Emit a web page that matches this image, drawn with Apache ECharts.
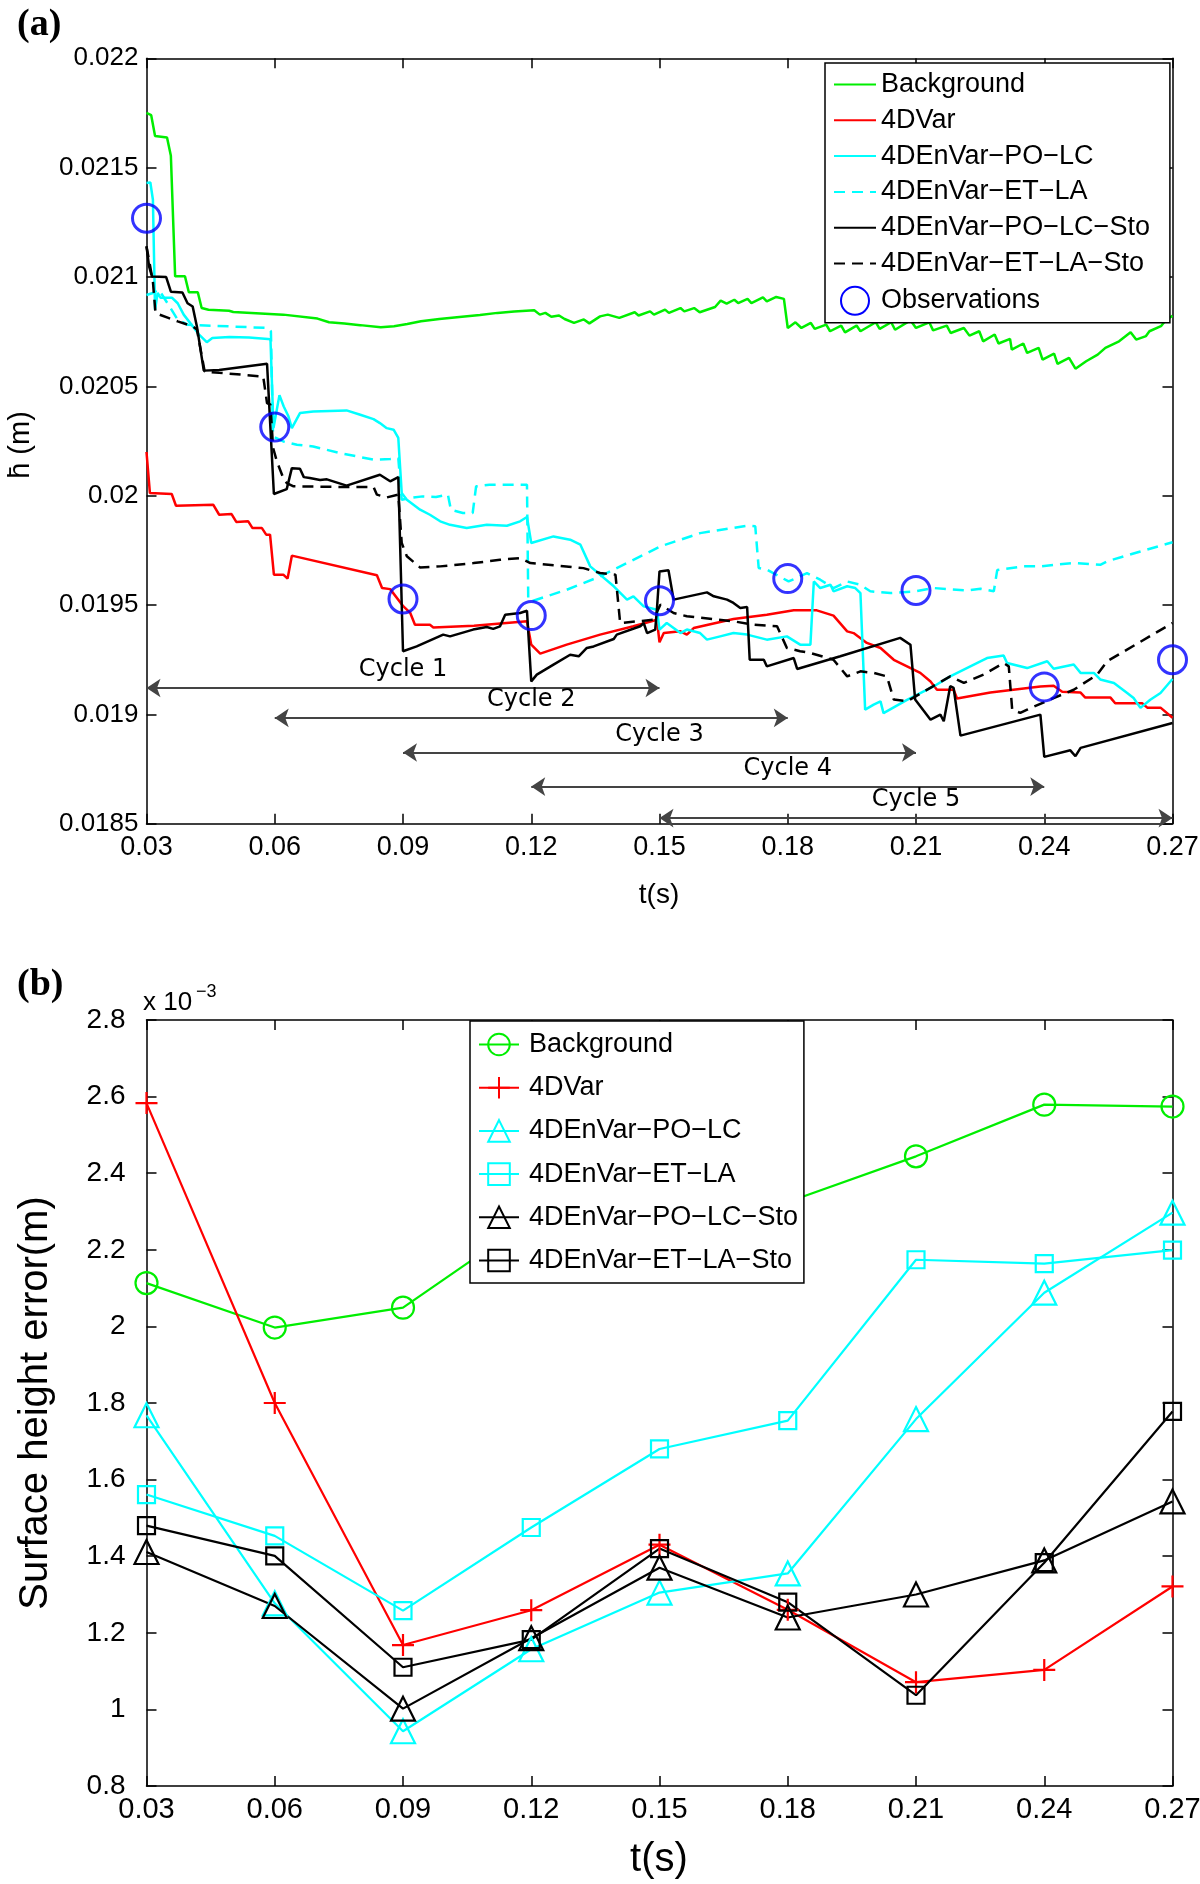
<!DOCTYPE html>
<html>
<head>
<meta charset="utf-8">
<title>Surface height and error</title>
<script src="https://cdn.jsdelivr.net/npm/echarts@6/dist/echarts.min.js"></script>
<style>
  html, body { margin: 0; padding: 0; background: #fff; }
  #chart { width: 1200px; height: 1884px; }
</style>
</head>
<body>
<div id="chart"></div>
<script>
// ---- panel (a): mean surface height over time, pairs [t, h] ----
var background = [[0.03,0.02175],[0.0311,0.02174],[0.032,0.021645],[0.0348,0.021638],[0.0357,0.021554],[0.0367,0.021003],[0.039,0.021003],[0.0399,0.02093],[0.042,0.02093],[0.0429,0.020858],[0.0445,0.02085],[0.0493,0.020846],[0.0503,0.02084],[0.062,0.020828],[0.070,0.02081],[0.0727,0.020793],[0.0763,0.020787],[0.080,0.02078],[0.0848,0.02077],[0.0879,0.020775],[0.091,0.020785],[0.0942,0.020798],[0.0985,0.020808],[0.1032,0.020817],[0.108,0.020826],[0.1121,0.020836],[0.116,0.020842],[0.1207,0.020848],[0.122,0.020828],[0.1233,0.020836],[0.1247,0.020818],[0.1265,0.020824],[0.1278,0.020808],[0.130,0.02079],[0.1323,0.020806],[0.1336,0.020788],[0.1361,0.02082],[0.1379,0.020828],[0.1406,0.020813],[0.1442,0.020839],[0.1451,0.020824],[0.1478,0.020843],[0.1487,0.020828],[0.1513,0.020851],[0.1522,0.020836],[0.1549,0.020858],[0.1558,0.020843],[0.1581,0.020858],[0.1594,0.020839],[0.163,0.020863],[0.1643,0.020892],[0.1657,0.020878],[0.1675,0.020896],[0.1684,0.020881],[0.1706,0.0209],[0.1715,0.020881],[0.1742,0.020907],[0.1751,0.020889],[0.1773,0.020909],[0.1791,0.0209],[0.18,0.020767],[0.1818,0.020793],[0.1832,0.020767],[0.1854,0.02079],[0.1863,0.020763],[0.189,0.020782],[0.1899,0.020752],[0.1925,0.020778],[0.1934,0.020747],[0.1961,0.020778],[0.197,0.020752],[0.2006,0.020793],[0.2015,0.020763],[0.2042,0.020793],[0.2051,0.020759],[0.2087,0.020802],[0.21,0.020767],[0.2131,0.020793],[0.214,0.020756],[0.2172,0.020778],[0.2181,0.020744],[0.2212,0.020767],[0.2225,0.020732],[0.2248,0.020752],[0.2257,0.020706],[0.2284,0.020737],[0.2293,0.020696],[0.232,0.020717],[0.2324,0.020668],[0.2351,0.020696],[0.236,0.020653],[0.2387,0.020676],[0.2396,0.020622],[0.2423,0.02065],[0.2431,0.020603],[0.2458,0.02063],[0.2473,0.020581],[0.2498,0.020615],[0.2525,0.020645],[0.2543,0.020676],[0.2575,0.020706],[0.2602,0.020747],[0.2615,0.020714],[0.2638,0.02073],[0.2646,0.020752],[0.2673,0.020775],[0.2685,0.020805],[0.27,0.020822]];

var var4d = [[0.03,0.0202],[0.0308,0.020012],[0.0359,0.020008],[0.0369,0.019954],[0.0456,0.019959],[0.047,0.019913],[0.0499,0.019916],[0.051,0.01988],[0.0538,0.019883],[0.0548,0.019852],[0.057,0.019852],[0.058,0.019822],[0.0589,0.019822],[0.0598,0.019639],[0.062,0.019639],[0.063,0.019621],[0.064,0.019726],[0.0839,0.019636],[0.0851,0.019578],[0.087,0.019573],[0.0901,0.019494],[0.0917,0.019464],[0.0928,0.01941],[0.0963,0.01941],[0.0971,0.019398],[0.1066,0.019405],[0.119,0.019426],[0.12,0.019319],[0.1221,0.019278],[0.1283,0.019319],[0.1361,0.019365],[0.1439,0.019403],[0.1494,0.019433],[0.15,0.01933],[0.151,0.019372],[0.1549,0.01938],[0.1564,0.019365],[0.158,0.019395],[0.1673,0.019436],[0.1751,0.019456],[0.1814,0.019476],[0.1868,0.019476],[0.1907,0.019452],[0.1939,0.01938],[0.1954,0.019372],[0.1985,0.019327],[0.2017,0.019304],[0.2048,0.01925],[0.2079,0.01922],[0.211,0.01919],[0.2134,0.019151],[0.2149,0.019113],[0.2188,0.019113],[0.2196,0.019073],[0.2274,0.0191],[0.2391,0.019128],[0.2422,0.019131],[0.2442,0.019104],[0.2485,0.0191],[0.2496,0.019077],[0.2555,0.019077],[0.2566,0.019051],[0.2629,0.019051],[0.2641,0.019031],[0.2672,0.019031],[0.27,0.018985]];

var poLc = [[0.03,0.02143],[0.0309,0.021432],[0.0315,0.021353],[0.032,0.02085],[0.0326,0.020927],[0.0333,0.020905],[0.036,0.020905],[0.0373,0.02088],[0.0387,0.020828],[0.0423,0.020737],[0.0441,0.020702],[0.0454,0.020721],[0.0494,0.020726],[0.054,0.020724],[0.0584,0.020717],[0.059,0.020714],[0.0597,0.02031],[0.0611,0.02046],[0.0621,0.020408],[0.0632,0.020363],[0.064,0.020309],[0.0659,0.020378],[0.069,0.020385],[0.0768,0.02039],[0.08,0.02037],[0.0831,0.02035],[0.0846,0.020332],[0.0862,0.020309],[0.0878,0.020302],[0.0889,0.020264],[0.0897,0.020012],[0.0909,0.019982],[0.094,0.019936],[0.0963,0.019913],[0.0987,0.019883],[0.101,0.019867],[0.1049,0.019852],[0.1096,0.019867],[0.1143,0.019863],[0.1174,0.019883],[0.119,0.019903],[0.12,0.019784],[0.1252,0.019814],[0.1291,0.019799],[0.1315,0.019776],[0.1338,0.019677],[0.1393,0.019586],[0.1424,0.019525],[0.1439,0.01954],[0.1463,0.019494],[0.1494,0.019479],[0.15,0.019388],[0.1517,0.019418],[0.1549,0.019372],[0.1564,0.019388],[0.1595,0.019372],[0.1611,0.019342],[0.1642,0.019357],[0.1673,0.019372],[0.1705,0.019365],[0.1751,0.019342],[0.1798,0.019357],[0.1829,0.019319],[0.1853,0.019319],[0.1861,0.019608],[0.1876,0.019578],[0.19,0.019593],[0.1907,0.019563],[0.1939,0.019586],[0.1958,0.019578],[0.197,0.019555],[0.1981,0.019022],[0.2001,0.019045],[0.2017,0.01906],[0.2024,0.019006],[0.2079,0.019067],[0.2141,0.019128],[0.218,0.019174],[0.2266,0.019258],[0.2305,0.019269],[0.2313,0.019235],[0.236,0.019212],[0.2407,0.019243],[0.2422,0.019209],[0.2469,0.019228],[0.2485,0.01919],[0.2516,0.01919],[0.2531,0.01916],[0.2563,0.019144],[0.2594,0.019098],[0.2609,0.019075],[0.2625,0.01903],[0.2648,0.019067],[0.2672,0.019098],[0.27,0.019162]];

var etLa = [[0.03,0.020918],[0.0315,0.020927],[0.0329,0.020942],[0.0351,0.020874],[0.0373,0.020805],[0.0396,0.020782],[0.0584,0.020767],[0.0591,0.020752],[0.0596,0.020271],[0.062,0.020248],[0.0652,0.020233],[0.069,0.020225],[0.0753,0.020195],[0.0831,0.020165],[0.087,0.020168],[0.0889,0.020172],[0.0897,0.019982],[0.0915,0.019989],[0.0946,0.019997],[0.0977,0.019994],[0.1005,0.020005],[0.1012,0.019936],[0.104,0.019921],[0.1063,0.019921],[0.1071,0.020043],[0.1102,0.02005],[0.119,0.02005],[0.1193,0.019525],[0.12,0.019517],[0.1283,0.01957],[0.1361,0.019631],[0.1502,0.019768],[0.1595,0.019829],[0.1705,0.019863],[0.1724,0.01986],[0.1732,0.01967],[0.1751,0.019662],[0.1802,0.019608],[0.1845,0.019646],[0.1876,0.019616],[0.1907,0.019578],[0.1939,0.019608],[0.197,0.019593],[0.1993,0.019563],[0.204,0.019555],[0.21,0.019563],[0.2141,0.019578],[0.2219,0.019567],[0.2251,0.019575],[0.2282,0.019563],[0.229,0.01966],[0.2352,0.019677],[0.2391,0.019677],[0.2422,0.019684],[0.2469,0.019692],[0.2531,0.019684],[0.2547,0.0197],[0.2625,0.019745],[0.27,0.019787]];

var poLcSto = [[0.03,0.02114],[0.0306,0.021049],[0.0313,0.021002],[0.0346,0.021],[0.0357,0.020933],[0.0384,0.020929],[0.0396,0.02088],[0.0408,0.020865],[0.0418,0.020773],[0.0434,0.020572],[0.047,0.020575],[0.0582,0.020603],[0.0598,0.020008],[0.0628,0.02003],[0.064,0.020126],[0.0659,0.020123],[0.0668,0.020085],[0.0682,0.020081],[0.0706,0.020072],[0.0722,0.020075],[0.0768,0.020046],[0.0846,0.020096],[0.087,0.020066],[0.0889,0.020085],[0.09,0.019289],[0.0932,0.019311],[0.0994,0.019365],[0.101,0.019357],[0.1064,0.019388],[0.1096,0.0194],[0.1111,0.019391],[0.1127,0.019403],[0.1139,0.019456],[0.1174,0.019464],[0.119,0.019474],[0.12,0.019151],[0.1213,0.019182],[0.1252,0.019228],[0.1291,0.019273],[0.1311,0.019266],[0.133,0.019304],[0.1346,0.019311],[0.1393,0.019345],[0.14,0.019365],[0.1455,0.019403],[0.1463,0.019418],[0.1471,0.019372],[0.149,0.019388],[0.1494,0.019482],[0.15,0.019654],[0.1521,0.019659],[0.1533,0.019525],[0.1611,0.019558],[0.1627,0.01954],[0.1658,0.019525],[0.1673,0.01951],[0.1689,0.019487],[0.1705,0.019491],[0.1711,0.01925],[0.1744,0.01925],[0.1751,0.01922],[0.1814,0.019258],[0.1822,0.019208],[0.1923,0.019266],[0.2063,0.01935],[0.2087,0.019319],[0.2098,0.019068],[0.2134,0.018976],[0.2157,0.018999],[0.2165,0.018969],[0.218,0.019129],[0.2188,0.019121],[0.2204,0.018903],[0.2391,0.018999],[0.24,0.018806],[0.2461,0.018836],[0.2473,0.018809],[0.2485,0.018847],[0.27,0.018961]];

var etLaSto = [[0.03,0.02114],[0.0315,0.02098],[0.0321,0.020835],[0.0351,0.020813],[0.0373,0.020797],[0.0408,0.020775],[0.0418,0.02076],[0.0436,0.020568],[0.047,0.020562],[0.0573,0.020545],[0.0582,0.020423],[0.059,0.020416],[0.0596,0.02022],[0.0605,0.020157],[0.062,0.020081],[0.0628,0.020058],[0.0644,0.020043],[0.0768,0.02004],[0.0831,0.02004],[0.0839,0.020005],[0.0862,0.019992],[0.0889,0.020005],[0.0897,0.019784],[0.0909,0.019723],[0.094,0.019672],[0.0987,0.019677],[0.1065,0.019692],[0.1127,0.019707],[0.1174,0.019715],[0.1198,0.019692],[0.1322,0.019669],[0.1361,0.019647],[0.1397,0.019639],[0.1408,0.019418],[0.1486,0.019433],[0.1502,0.019502],[0.1533,0.019464],[0.1564,0.019449],[0.1673,0.019426],[0.172,0.01941],[0.1775,0.019403],[0.1798,0.019304],[0.1829,0.019289],[0.1853,0.019281],[0.1907,0.01925],[0.1939,0.019174],[0.197,0.019197],[0.2001,0.01919],[0.2032,0.019174],[0.2048,0.019068],[0.2079,0.01906],[0.218,0.019174],[0.2212,0.019144],[0.2258,0.019182],[0.2305,0.019235],[0.2317,0.01922],[0.2325,0.019022],[0.2344,0.019007],[0.236,0.019022],[0.2422,0.019075],[0.2469,0.019113],[0.2524,0.019182],[0.2547,0.019243],[0.27,0.019418]];

var obsT = [0.03, 0.06, 0.09, 0.12, 0.15, 0.18, 0.21, 0.24, 0.27];
var obsH = [0.021269, 0.020314, 0.019528, 0.019452, 0.01952, 0.019621, 0.019567, 0.019126, 0.01925];

// assimilation windows
var cycleNames = ['Cycle 1', 'Cycle 2', 'Cycle 3', 'Cycle 4', 'Cycle 5'];
var cycleStart = [0.03, 0.06, 0.09, 0.12, 0.15];
var cycleEnd = [0.15, 0.18, 0.21, 0.24, 0.27];
var cycleH = [0.019121, 0.018984, 0.018826, 0.01867, 0.018526];

// ---- panel (b): surface height error (x 1e-3) ----
var tErr = [0.03, 0.06, 0.09, 0.12, 0.15, 0.18, 0.21, 0.24, 0.27];
var errBackground = [2.113, 1.997, 2.049, 2.28, 2.30, 2.325, 2.444, 2.579, 2.574];
var err4DVar = [2.583, 1.80, 1.168, 1.259, 1.43, 1.26, 1.071, 1.103, 1.321];
var errPoLc = [1.768, 1.277, 0.943, 1.157, 1.305, 1.355, 1.758, 2.088, 2.297];
var errEtLa = [1.561, 1.453, 1.258, 1.475, 1.68, 1.754, 2.174, 2.164, 2.199];
var errPoLcSto = [1.411, 1.27, 1.002, 1.186, 1.37, 1.24, 1.30, 1.389, 1.543];
var errEtLaSto = [1.48, 1.401, 1.11, 1.182, 1.42, 1.28, 1.037, 1.383, 1.778];

var names = ['Background', '4DVar', '4DEnVar\u2212PO\u2212LC', '4DEnVar\u2212ET\u2212LA',
             '4DEnVar\u2212PO\u2212LC\u2212Sto', '4DEnVar\u2212ET\u2212LA\u2212Sto'];

var FONT = 'Liberation Sans';
var GREEN = '#00ee00', RED = '#ff0000', CYAN = '#00ffff', BLACK = '#000000', BLUE = '#0000ff';

var chart = echarts.init(document.getElementById('chart'));

function xAx(grid, pos, showLabel, fontSize, margin) {
    return {
        gridIndex: grid, type: 'value', position: pos,
        min: 0.03, max: 0.27, interval: 0.03,
        axisLine: { show: true, onZero: false, lineStyle: { color: '#000', width: 1.5 } },
        axisTick: { show: true, inside: true, length: 10, lineStyle: { color: '#000', width: 1.5 } },
        axisLabel: { show: showLabel, margin: margin, fontSize: fontSize, fontFamily: FONT, color: '#000',
                     showMinLabel: true, showMaxLabel: true,
                     formatter: function (v) { return v.toFixed(2); } },
        splitLine: { show: false }
    };
}
function yAx(grid, pos, showLabel, min, max, step, digits, fontSize, margin) {
    return {
        gridIndex: grid, type: 'value', position: pos,
        min: min, max: max, interval: step,
        axisLine: { show: true, onZero: false, lineStyle: { color: '#000', width: 1.5 } },
        axisTick: { show: true, inside: true, length: 10, lineStyle: { color: '#000', width: 1.5 } },
        axisLabel: { show: showLabel, margin: margin, fontSize: fontSize, fontFamily: FONT, color: '#000',
                     showMinLabel: true, showMaxLabel: true,
                     formatter: function (v) { return String(parseFloat(v.toFixed(digits))); } },
        splitLine: { show: false }
    };
}

function hLine(name, data, color, dashed) {
    return {
        name: name, type: 'line', xAxisIndex: 0, yAxisIndex: 0, data: data,
        symbol: 'none', showSymbol: false, animation: false,
        lineStyle: { color: color, width: 2.5, type: dashed ? [11, 7] : 'solid' },
        itemStyle: { color: color }
    };
}
function eLine(name, data, color, symbol, size) {
    return {
        name: name + '\u200b', type: 'line', xAxisIndex: 2, yAxisIndex: 2,
        data: tErr.map(function (t, i) { return [t, data[i]]; }),
        symbol: symbol, symbolSize: size, showSymbol: true, showAllSymbol: true, clip: false, animation: false,
        lineStyle: { color: color, width: 2.2 },
        itemStyle: { color: 'rgba(0,0,0,0)', borderColor: color, borderWidth: 2.2 }
    };
}

var cycleLines = cycleNames.map(function (n, i) {
    return [{ name: n, coord: [cycleStart[i], cycleH[i]] }, { coord: [cycleEnd[i], cycleH[i]] }];
});

var PLUS = 'path://M10,0L10,20M0,10L20,10';

// panel (a) legend: lines only, observations as hollow circle
var legendA = names.map(function (n) { return { name: n }; });
legendA.push({ name: 'Observations', itemStyle: { opacity: 1 } });

var option = {
    backgroundColor: '#fff',
    animation: false,
    grid: [
        { left: 146.5, top: 58.3, width: 1026, height: 765.5, outerBoundsMode: 'none', containLabel: false },
        { left: 146.5, top: 1020, width: 1026, height: 766, outerBoundsMode: 'none', containLabel: false }
    ],
    xAxis: [
        xAx(0, 'bottom', true, 27, 10), xAx(0, 'top', false, 27, 10),
        xAx(1, 'bottom', true, 29, 9), xAx(1, 'top', false, 29, 9)
    ],
    yAxis: [
        yAx(0, 'left', true, 0.0185, 0.022, 0.0005, 5, 26, 8), yAx(0, 'right', false, 0.0185, 0.022, 0.0005, 5, 26, 8),
        yAx(1, 'left', true, 0.8, 2.8, 0.2, 1, 28, 21), yAx(1, 'right', false, 0.8, 2.8, 0.2, 1, 28, 21)
    ],
    legend: [
        {
            orient: 'vertical', left: 825, top: 63,
            data: legendA,
            itemWidth: 42, itemHeight: 28, itemGap: 8.8,
            padding: [8, 20, 7, 8],
            itemStyle: { opacity: 0 },
            borderColor: '#000', borderWidth: 1.5, backgroundColor: '#fff',
            selectedMode: false,
            textStyle: { fontFamily: FONT, fontSize: 27, color: '#000' }
        },
        {
            orient: 'vertical', left: 470, top: 1021,
            data: names.map(function (n) { return n + '\u200b'; }),
            itemWidth: 40, itemHeight: 27, itemGap: 16.2,
            padding: [10, 6, 9, 8],
            borderColor: '#000', borderWidth: 1.5, backgroundColor: '#fff',
            selectedMode: false,
            textStyle: { fontFamily: FONT, fontSize: 27, color: '#000', padding: [0, 0, 0, 5] }
        }
    ],
    graphic: [
        { type: 'text', x: 17, y: 6, style: { text: '(a)', fontFamily: 'Liberation Serif', fontWeight: 'bold', fontSize: 38, fill: '#000' } },
        { type: 'text', x: 17, y: 966, style: { text: '(b)', fontFamily: 'Liberation Serif', fontWeight: 'bold', fontSize: 38, fill: '#000' } },
        { type: 'text', x: 21, y: 445, rotation: Math.PI / 2,
          style: { text: 'h\u0304 (m)', fontFamily: FONT, fontSize: 29, fill: '#000', align: 'center', verticalAlign: 'middle' } },
        { type: 'text', x: 659, y: 895,
          style: { text: 't(s)', fontFamily: FONT, fontSize: 28, fill: '#000', align: 'center', verticalAlign: 'middle' } },
        { type: 'text', x: 36, y: 1403, rotation: Math.PI / 2,
          style: { text: 'Surface height error(m)', fontFamily: FONT, fontSize: 40, fill: '#000', align: 'center', verticalAlign: 'middle' } },
        { type: 'text', x: 659, y: 1860,
          style: { text: 't(s)', fontFamily: FONT, fontSize: 40, fill: '#000', align: 'center', verticalAlign: 'middle' } },
        { type: 'text', x: 143, y: 1016,
          style: { text: 'x 10', fontFamily: FONT, fontSize: 26, fill: '#000', align: 'left', verticalAlign: 'bottom' } },
        { type: 'text', x: 196, y: 1001,
          style: { text: '\u22123', fontFamily: FONT, fontSize: 18, fill: '#000', align: 'left', verticalAlign: 'bottom' } }
    ],
    series: [
        hLine(names[0], background, GREEN, false),
        hLine(names[1], var4d, RED, false),
        hLine(names[2], poLc, CYAN, false),
        hLine(names[3], etLa, CYAN, true),
        hLine(names[4], poLcSto, BLACK, false),
        hLine(names[5], etLaSto, BLACK, true),
        {
            name: 'Observations', type: 'scatter', xAxisIndex: 0, yAxisIndex: 0,
            data: obsT.map(function (t, i) { return [t, obsH[i]]; }),
            symbol: 'circle', symbolSize: 28, clip: false, animation: false, z: 5,
            itemStyle: { color: 'rgba(0,0,0,0)', borderColor: BLUE, borderWidth: 3 }
        },
        {
            type: 'line', xAxisIndex: 0, yAxisIndex: 0, data: [], animation: false,
            markLine: {
                silent: true, animation: false,
                symbol: ['arrow', 'arrow'], symbolSize: 14,
                lineStyle: { color: '#444', width: 1.8, type: 'solid' },
                label: { show: true, position: 'insideMiddleTop', distance: 6, formatter: '{b}',
                         fontFamily: 'DejaVu Sans', fontSize: 24, color: '#000' },
                data: cycleLines
            }
        },
        eLine(names[0], errBackground, GREEN, 'circle', 22),
        eLine(names[1], err4DVar, RED, PLUS, 22),
        eLine(names[2], errPoLc, CYAN, 'triangle', 24),
        eLine(names[3], errEtLa, CYAN, 'rect', 17),
        eLine(names[4], errPoLcSto, BLACK, 'triangle', 24),
        eLine(names[5], errEtLaSto, BLACK, 'rect', 17)
    ]
};

chart.setOption(option);
</script>
</body>
</html>
